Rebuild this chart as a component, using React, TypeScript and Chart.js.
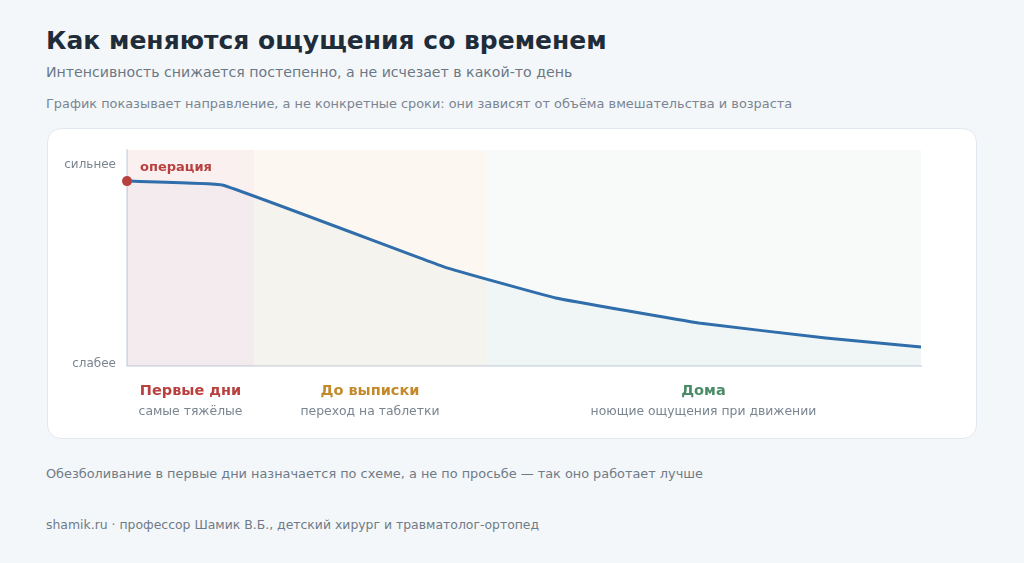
import { useEffect, useRef } from 'react';
import Chart from 'chart.js/auto';

// phases along the time axis (x values 0..100, arbitrary units)
const phaseNames = ['Первые дни', 'До выписки', 'Дома'];
const phaseNotes = ['самые тяжёлые', 'переход на таблетки', 'ноющие ощущения при движении'];
const phaseStart = [0, 16, 45.2];
const phaseEnd = [16, 45.2, 100];
const phaseColors = ['#b8413f', '#c38a2c', '#4b8c68'];
const phaseFills = ['rgba(190, 70, 70, 0.08)', 'rgba(215, 150, 60, 0.07)', 'rgba(90, 150, 130, 0.05)'];

// pain intensity curve
const timeX = [0, 12, 40, 54, 72, 88, 100];
const intensity = [85.6, 83.8, 45.8, 31.5, 19.9, 13, 8.8];

const yTickValues = [1, 93];
const yTickLabels = ['слабее', 'сильнее'];

const FONT = '"DejaVu Sans", sans-serif';

const phasesPlugin = {
  id: 'phases',
  beforeDatasetsDraw(chart: Chart) {
    const { ctx, chartArea } = chart;
    const x = chart.scales.x;
    ctx.save();
    phaseStart.forEach((s, i) => {
      const x0 = x.getPixelForValue(s);
      const x1 = x.getPixelForValue(phaseEnd[i]);
      ctx.fillStyle = phaseFills[i];
      ctx.fillRect(x0, chartArea.top, x1 - x0, chartArea.bottom - chartArea.top);
    });
    ctx.restore();
  },
  afterDraw(chart: Chart) {
    const { ctx, chartArea } = chart;
    const x = chart.scales.x;
    const y = chart.scales.y;
    ctx.save();
    ctx.textAlign = 'center';
    ctx.textBaseline = 'middle';
    phaseNames.forEach((name, i) => {
      const cx = (x.getPixelForValue(phaseStart[i]) + x.getPixelForValue(phaseEnd[i])) / 2;
      ctx.font = `bold 14.5px ${FONT}`;
      ctx.fillStyle = phaseColors[i];
      ctx.fillText(name, cx, chartArea.bottom + 25);
      ctx.font = `12.4px ${FONT}`;
      ctx.fillStyle = '#7a8590';
      ctx.fillText(phaseNotes[i], cx, chartArea.bottom + 46);
    });
    // label for the surgery point
    ctx.textAlign = 'left';
    ctx.font = `bold 13px ${FONT}`;
    ctx.fillStyle = '#b8413f';
    ctx.fillText('операция', x.getPixelForValue(timeX[0]) + 13, y.getPixelForValue(intensity[0]) - 13);
    ctx.restore();
  },
};

function PainChart() {
  const canvasRef = useRef<HTMLCanvasElement>(null);

  useEffect(() => {
    const canvas = canvasRef.current;
    if (!canvas) return;
    const chart = new Chart(canvas, {
      type: 'line',
      data: {
        datasets: [
          {
            data: timeX.map((t, i) => ({ x: t, y: intensity[i] })),
            borderColor: '#2f6dab',
            borderWidth: 3,
            backgroundColor: 'rgba(47, 109, 171, 0.035)',
            fill: 'origin',
            tension: 0.08,
            pointRadius: timeX.map((_, i) => (i === 0 ? 5 : 0)),
            pointBackgroundColor: '#b8413f',
            pointBorderWidth: 0,
            clip: false,
          },
        ],
      },
      options: {
        responsive: true,
        maintainAspectRatio: false,
        animation: false,
        layout: { padding: { left: 0, top: 21, right: 55, bottom: 72 } },
        plugins: {
          legend: { display: false },
          tooltip: { enabled: false },
        },
        scales: {
          x: {
            type: 'linear',
            min: 0,
            max: 100,
            grid: { display: false },
            border: { display: true, color: '#dfe6ef', width: 2 },
            ticks: { display: false },
            afterFit: (scale) => {
              scale.height = 0;
            },
          },
          y: {
            min: 0,
            max: 100,
            grid: { display: false, drawTicks: false },
            border: { display: true, color: '#dfe6ef', width: 2 },
            afterBuildTicks: (scale) => {
              scale.ticks = yTickValues.map((v) => ({ value: v }));
            },
            afterFit: (scale) => {
              scale.width = 79;
            },
            ticks: {
              padding: 11,
              color: '#7a8590',
              font: { family: FONT, size: 12 },
              callback: (value) => yTickLabels[yTickValues.indexOf(Number(value))] ?? '',
            },
          },
        },
      },
      plugins: [phasesPlugin],
    });
    return () => chart.destroy();
  }, []);

  return <canvas ref={canvasRef} />;
}

export default function App() {
  return (
    <div
      style={{
        position: 'fixed',
        inset: 0,
        background: '#f4f7fa',
        fontFamily: FONT,
        padding: '0 46px',
      }}
    >
      <div style={{ fontSize: 25, fontWeight: 'bold', color: '#1f2d3a', marginTop: 26, lineHeight: '29px' }}>
        Как меняются ощущения со временем
      </div>
      <div style={{ fontSize: 14.15, color: '#6b7784', marginTop: 8, lineHeight: '18px' }}>
        Интенсивность снижается постепенно, а не исчезает в какой-то день
      </div>
      <div style={{ fontSize: 12.88, color: '#7a8591', marginTop: 14, lineHeight: '17px' }}>
        График показывает направление, а не конкретные сроки: они зависят от объёма вмешательства и возраста
      </div>
      <div
        style={{
          position: 'absolute',
          left: 47,
          top: 128,
          width: 928,
          height: 309,
          background: '#ffffff',
          border: '1px solid #e2e8ef',
          borderRadius: 14,
        }}
      >
        <PainChart />
      </div>
      <div style={{ position: 'absolute', left: 46, top: 465, fontSize: 12.86, color: '#6f7b87', lineHeight: '17px' }}>
        Обезболивание в первые дни назначается по схеме, а не по просьбе — так оно работает лучше
      </div>
      <div style={{ position: 'absolute', left: 46, top: 517, fontSize: 12.43, color: '#6f7b87', lineHeight: '16px' }}>
        shamik.ru · профессор Шамик В.Б., детский хирург и травматолог-ортопед
      </div>
    </div>
  );
}
